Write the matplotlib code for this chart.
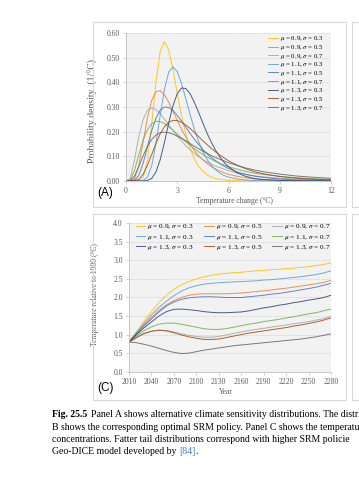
import matplotlib
matplotlib.use("Agg")
import matplotlib.pyplot as plt
from matplotlib.patches import Rectangle

# ---- data ----
temp_grid = [0, 0.25, 0.5, 0.75, 1.0, 1.25, 1.5, 1.75, 2.0, 2.25, 2.5, 2.75, 3.0,
             3.25, 3.5, 3.75, 4.0, 4.25, 4.5, 4.75, 5.0, 5.25, 5.5, 5.75, 6.0,
             6.5, 7.0, 7.5, 8.0, 9, 10, 11, 12]

pdf_09_03 = [0, 0, 0, 0.001, 0.015, 0.084, 0.228, 0.399, 0.524, 0.566, 0.531, 0.451, 0.356,
             0.266, 0.190, 0.132, 0.089, 0.059, 0.039, 0.025, 0.016, 0.010, 0.007, 0.004, 0.003,
             0.001, 0.000, 0, 0, 0, 0, 0, 0]
pdf_09_05 = [0, 0, 0.010, 0.063, 0.158, 0.255, 0.326, 0.362, 0.366, 0.349, 0.319, 0.283, 0.246,
             0.210, 0.178, 0.149, 0.124, 0.103, 0.086, 0.071, 0.058, 0.048, 0.040, 0.033, 0.027,
             0.019, 0.013, 0.009, 0.006, 0.003, 0.002, 0.001, 0.000]
pdf_09_07 = [0, 0.011, 0.086, 0.180, 0.249, 0.286, 0.296, 0.289, 0.273, 0.251, 0.228, 0.205, 0.183,
             0.162, 0.143, 0.127, 0.112, 0.099, 0.087, 0.077, 0.068, 0.060, 0.054, 0.048, 0.042,
             0.033, 0.027, 0.021, 0.017, 0.011, 0.008, 0.005, 0.004]
pdf_11_03 = [0, 0, 0, 0, 0.002, 0.015, 0.061, 0.150, 0.265, 0.372, 0.441, 0.463, 0.443,
             0.395, 0.334, 0.270, 0.211, 0.160, 0.119, 0.087, 0.063, 0.045, 0.032, 0.022, 0.016,
             0.008, 0.004, 0.002, 0.001, 0.000, 0, 0, 0]
pdf_11_05 = [0, 0, 0.003, 0.023, 0.071, 0.137, 0.203, 0.254, 0.287, 0.300, 0.298, 0.286, 0.266,
             0.243, 0.218, 0.193, 0.169, 0.148, 0.128, 0.110, 0.095, 0.082, 0.070, 0.060, 0.051,
             0.037, 0.027, 0.020, 0.015, 0.008, 0.004, 0.003, 0.001]
pdf_11_07 = [0, 0.004, 0.043, 0.107, 0.166, 0.208, 0.232, 0.242, 0.241, 0.233, 0.220, 0.206, 0.190,
             0.174, 0.159, 0.145, 0.131, 0.119, 0.107, 0.097, 0.088, 0.079, 0.071, 0.065, 0.058,
             0.048, 0.039, 0.032, 0.027, 0.019, 0.013, 0.009, 0.007]
pdf_13_03 = [0, 0, 0, 0, 0, 0.002, 0.010, 0.036, 0.086, 0.156, 0.235, 0.305, 0.354,
             0.377, 0.375, 0.354, 0.319, 0.278, 0.235, 0.193, 0.156, 0.124, 0.097, 0.075, 0.058,
             0.033, 0.019, 0.010, 0.006, 0.002, 0.001, 0.000, 0]
pdf_13_05 = [0, 0, 0.001, 0.007, 0.027, 0.063, 0.107, 0.152, 0.191, 0.220, 0.238, 0.246, 0.245,
             0.238, 0.227, 0.213, 0.197, 0.180, 0.163, 0.147, 0.132, 0.118, 0.105, 0.093, 0.082,
             0.064, 0.050, 0.038, 0.030, 0.018, 0.011, 0.007, 0.004]
pdf_13_07 = [0, 0.001, 0.020, 0.058, 0.102, 0.140, 0.168, 0.186, 0.196, 0.198, 0.196, 0.190, 0.182,
             0.173, 0.163, 0.152, 0.141, 0.131, 0.121, 0.112, 0.103, 0.095, 0.088, 0.081, 0.074,
             0.063, 0.053, 0.045, 0.038, 0.028, 0.020, 0.015, 0.011]

years = [2010, 2020, 2030, 2040, 2050, 2060, 2070, 2080, 2090, 2100, 2110, 2120, 2130, 2140,
         2150, 2160, 2170, 2180, 2190, 2200, 2210, 2220, 2230, 2240, 2250, 2260, 2270, 2280]

temp_09_03 = [0.80, 1.08, 1.36, 1.62, 1.86, 2.06, 2.22, 2.34, 2.43, 2.50, 2.56, 2.60, 2.63, 2.65,
              2.67, 2.68, 2.70, 2.72, 2.73, 2.75, 2.76, 2.78, 2.79, 2.81, 2.83, 2.86, 2.89, 2.93]
temp_09_05 = [0.80, 1.03, 1.26, 1.46, 1.65, 1.80, 1.92, 2.00, 2.06, 2.09, 2.10, 2.10, 2.10, 2.10,
              2.11, 2.12, 2.14, 2.16, 2.18, 2.20, 2.23, 2.25, 2.28, 2.31, 2.34, 2.37, 2.41, 2.46]
temp_09_07 = [0.80, 0.92, 1.02, 1.09, 1.12, 1.11, 1.07, 1.02, 0.98, 0.95, 0.93, 0.93, 0.95, 0.99,
              1.03, 1.07, 1.11, 1.14, 1.17, 1.20, 1.23, 1.26, 1.29, 1.32, 1.35, 1.39, 1.43, 1.49]
temp_11_03 = [0.80, 1.05, 1.30, 1.53, 1.73, 1.90, 2.05, 2.17, 2.26, 2.32, 2.36, 2.38, 2.40, 2.41,
              2.42, 2.43, 2.44, 2.45, 2.47, 2.48, 2.50, 2.52, 2.54, 2.56, 2.59, 2.62, 2.66, 2.72]
temp_11_05 = [0.80, 1.02, 1.23, 1.42, 1.61, 1.77, 1.88, 1.95, 1.99, 2.01, 2.02, 2.02, 2.01, 2.00,
              2.00, 2.00, 2.02, 2.04, 2.06, 2.09, 2.11, 2.14, 2.17, 2.21, 2.24, 2.28, 2.33, 2.38]
temp_11_07 = [0.80, 0.96, 1.10, 1.21, 1.28, 1.31, 1.31, 1.28, 1.24, 1.20, 1.16, 1.14, 1.14, 1.16,
              1.20, 1.24, 1.28, 1.31, 1.35, 1.38, 1.41, 1.45, 1.48, 1.52, 1.56, 1.59, 1.64, 1.69]
temp_13_03 = [0.80, 1.00, 1.18, 1.34, 1.50, 1.62, 1.68, 1.69, 1.67, 1.65, 1.62, 1.60, 1.59, 1.59,
              1.60, 1.61, 1.64, 1.68, 1.72, 1.75, 1.79, 1.82, 1.86, 1.89, 1.93, 1.96, 2.00, 2.06]
temp_13_05 = [0.80, 0.92, 1.03, 1.09, 1.12, 1.10, 1.05, 0.99, 0.94, 0.90, 0.87, 0.87, 0.88, 0.92,
              0.96, 1.00, 1.04, 1.07, 1.10, 1.13, 1.16, 1.19, 1.23, 1.26, 1.30, 1.34, 1.39, 1.45]
temp_13_07 = [0.80, 0.78, 0.74, 0.69, 0.63, 0.57, 0.52, 0.49, 0.50, 0.54, 0.58, 0.61, 0.64, 0.67,
              0.70, 0.72, 0.74, 0.76, 0.78, 0.80, 0.82, 0.84, 0.86, 0.88, 0.91, 0.94, 0.98, 1.02]

labels = [r"$\mu$ = 0.9, $\sigma$ = 0.3", r"$\mu$ = 0.9, $\sigma$ = 0.5", r"$\mu$ = 0.9, $\sigma$ = 0.7",
          r"$\mu$ = 1.1, $\sigma$ = 0.3", r"$\mu$ = 1.1, $\sigma$ = 0.5", r"$\mu$ = 1.1, $\sigma$ = 0.7",
          r"$\mu$ = 1.3, $\sigma$ = 0.3", r"$\mu$ = 1.3, $\sigma$ = 0.5", r"$\mu$ = 1.3, $\sigma$ = 0.7"]
pdfs = [pdf_09_03, pdf_09_05, pdf_09_07, pdf_11_03, pdf_11_05, pdf_11_07, pdf_13_03, pdf_13_05, pdf_13_07]
temps = [temp_09_03, temp_09_05, temp_09_07, temp_11_03, temp_11_05, temp_11_07,
         temp_13_03, temp_13_05, temp_13_07]
colors = ["#FFC000", "#ED7D31", "#A5A5A5", "#5B9BD5", "#4472C4", "#70AD47",
          "#264478", "#9E480E", "#636363"]

plt.rcParams["font.family"] = ["Liberation Serif", "DejaVu Serif"]
plt.rcParams["mathtext.fontset"] = "stix"

W, H = 359, 480
fig = plt.figure(figsize=(W / 100, H / 100), dpi=100)
fig.patch.set_facecolor("white")

GRAY_TXT = "#595959"


def fx(px):
    return px / W


def fy(py):
    return 1 - py / H


def panel_box(x0, y0, x1, y1):
    fig.add_artist(Rectangle((fx(x0), fy(y1)), fx(x1) - fx(x0), fy(y0) - fy(y1),
                             transform=fig.transFigure, fill=False,
                             edgecolor="#d9d9d9", lw=0.8))


def style_axes(ax):
    ax.set_facecolor("#f2f2f2")
    for s in ["top", "right"]:
        ax.spines[s].set_visible(False)
    for s in ["left", "bottom"]:
        ax.spines[s].set_color("#bfbfbf")
        ax.spines[s].set_linewidth(0.6)
    ax.grid(axis="y", color="#c8c8c8", lw=0.5, ls=(0, (1.5, 1.5)))
    ax.set_axisbelow(True)
    ax.tick_params(labelsize=5.5, colors=GRAY_TXT, length=2, width=0.5, pad=2.5)
    ax.tick_params(axis="both", color="#bfbfbf")


# page frames
panel_box(93, 22, 346, 207)
panel_box(93, 214, 346, 400)
panel_box(352, 22, 380, 207)
panel_box(352, 214, 380, 400)

# ---- Panel A ----
axA = fig.add_axes([fx(126), fy(181), fx(331) - fx(126), fy(33) - fy(181)])
style_axes(axA)
for y, c, lab in zip(pdfs, colors, labels):
    axA.plot(temp_grid, y, color=c, lw=0.7, label=lab, alpha=0.85)
axA.set_xlim(0, 12)
axA.set_ylim(0, 0.6)
axA.set_xticks([0, 3, 6, 9, 12])
axA.set_yticks([0, 0.1, 0.2, 0.3, 0.4, 0.5, 0.6])
axA.set_yticklabels(["0.00", "0.10", "0.20", "0.30", "0.40", "0.50", "0.60"])
axA.set_ylabel("Probability density  (1/\u00b0C)", fontsize=7, color=GRAY_TXT)
axA.yaxis.set_label_coords(-0.135, 0.47)
axA.set_xlabel("Temperature change (\u00b0C)", fontsize=5.5, color=GRAY_TXT)
axA.xaxis.set_label_coords(0.53, -0.105)
axA.legend(loc="upper right", bbox_to_anchor=(0.975, 1.01), frameon=False,
           fontsize=4.9, handlelength=1.35, handletextpad=0.3, labelspacing=-0.05,
           borderaxespad=0)
fig.text(fx(105), fy(193), "(A)", family="Liberation Sans", fontsize=8.5,
         ha="center", va="center")

# ---- Panel C ----
axC = fig.add_axes([fx(129), fy(371.7), fx(331) - fx(129), fy(223.3) - fy(371.7)])
style_axes(axC)
for y, c, lab in zip(temps, colors, labels):
    axC.plot(years, y, color=c, lw=0.7, label=lab, alpha=0.85)
axC.set_xlim(2010, 2280)
axC.set_ylim(0, 4)
axC.set_xticks(list(range(2010, 2281, 30)))
axC.set_yticks([0, 0.5, 1, 1.5, 2, 2.5, 3, 3.5, 4])
axC.set_yticklabels(["0.0", "0.5", "1.0", "1.5", "2.0", "2.5", "3.0", "3.5", "4.0"])
axC.set_ylabel("Temperature relative to 1900 (\u00b0C)", fontsize=5.5, color=GRAY_TXT)
axC.yaxis.set_label_coords(-0.15, 0.52)
axC.set_xlabel("Year", fontsize=5.5, color=GRAY_TXT)
axC.xaxis.set_label_coords(0.48, -0.11)
h, l = axC.get_legend_handles_labels()
order = [0, 3, 6, 1, 4, 7, 2, 5, 8]
axC.legend([h[i] for i in order], [l[i] for i in order], ncol=3, loc="upper left",
           bbox_to_anchor=(0.02, 1.025), frameon=False, fontsize=5.2, handlelength=1.3,
           handletextpad=0.3, labelspacing=0.15, columnspacing=1.4, borderaxespad=0)
fig.text(fx(105), fy(388), "(C)", family="Liberation Sans", fontsize=8.5,
         ha="center", va="center")

# ---- caption ----
cap_lines = [
    "Panel A shows alternative climate sensitivity distributions. The distri",
    "B shows the corresponding optimal SRM policy. Panel C shows the temperatu",
    "concentrations. Fatter tail distributions correspond with higher SRM policie",
    "Geo-DICE model developed by ",
]
baselines = [417, 429.5, 442, 454.5]
renderer = fig.canvas.get_renderer()
t = fig.text(fx(52), fy(baselines[0]), "Fig. 25.5", fontsize=7, weight="bold", va="baseline")
x1 = t.get_window_extent(renderer).x1 / W
fig.text(x1 + fx(4), fy(baselines[0]), cap_lines[0], fontsize=7, va="baseline")
fig.text(fx(52), fy(baselines[1]), cap_lines[1], fontsize=7, va="baseline")
fig.text(fx(52), fy(baselines[2]), cap_lines[2], fontsize=7, va="baseline")
t = fig.text(fx(52), fy(baselines[3]), cap_lines[3], fontsize=7, va="baseline")
x1 = t.get_window_extent(renderer).x1 / W
t = fig.text(x1, fy(baselines[3]), "[84]", fontsize=7, va="baseline", color="#3b7dc4")
x1 = t.get_window_extent(renderer).x1 / W
fig.text(x1, fy(baselines[3]), ".", fontsize=7, va="baseline")

fig.savefig("out.png", dpi=100)
